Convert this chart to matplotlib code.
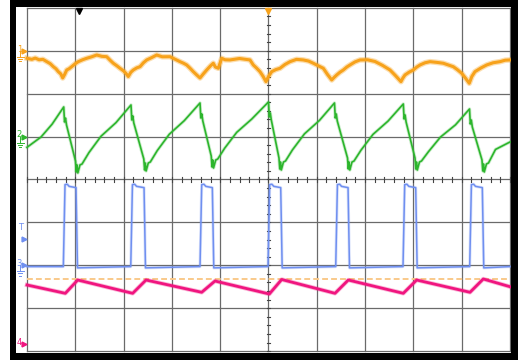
import numpy as np
import matplotlib
matplotlib.use("Agg")
from matplotlib import pyplot as plt

# screen units: x in divisions (0..10), y in divisions (-4..4, 0 = centre line)

# CH1 (orange)
ch1_t = [0.00, 0.10, 0.17, 0.25, 0.33, 0.41, 0.48, 0.545, 0.60, 0.648, 0.70, 0.739, 0.78, 0.822,
         0.87, 0.925, 1.00, 1.062, 1.15, 1.236, 1.34, 1.443, 1.55, 1.650, 1.72, 1.787, 1.86, 1.925,
         2.00, 2.05, 2.097, 2.15, 2.201, 2.27, 2.340, 2.41, 2.478, 2.58, 2.685, 2.80, 2.961, 3.07,
         3.168, 3.24, 3.306, 3.37, 3.443, 3.51, 3.582, 3.65, 3.720, 3.80, 3.857, 3.90, 3.961, 4.031,
         4.10, 4.203, 4.40, 4.617, 4.685, 4.75, 4.824, 4.89, 4.948, 5.00, 5.066, 5.15, 5.238, 5.34,
         5.445, 5.58, 5.721, 5.83, 5.928, 6.03, 6.135, 6.22, 6.309, 6.36, 6.412, 6.48, 6.549, 6.62,
         6.687, 6.79, 6.894, 7.05, 7.205, 7.36, 7.516, 7.63, 7.743, 7.78, 7.826, 7.91, 7.998, 8.07,
         8.137, 8.24, 8.344, 8.48, 8.619, 8.72, 8.826, 8.91, 9.000, 9.08, 9.157, 9.21, 9.275, 9.40,
         9.517, 9.65, 9.793, 9.90, 10.0]
ch1_v = [2.825, 2.80, 2.83, 2.79, 2.80, 2.746, 2.70, 2.629, 2.58, 2.513, 2.46, 2.366, 2.45, 2.552,
         2.58, 2.629, 2.70, 2.746, 2.79, 2.825, 2.86, 2.902, 2.87, 2.862, 2.78, 2.709, 2.65, 2.592,
         2.53, 2.47, 2.40, 2.50, 2.552, 2.60, 2.629, 2.72, 2.786, 2.84, 2.902, 2.86, 2.862, 2.80,
         2.746, 2.71, 2.669, 2.60, 2.513, 2.44, 2.366, 2.46, 2.552, 2.65, 2.709, 2.62, 2.592, 2.825,
         2.79, 2.786, 2.82, 2.786, 2.669, 2.60, 2.513, 2.40, 2.280, 2.40, 2.513, 2.56, 2.592, 2.68,
         2.746, 2.80, 2.786, 2.76, 2.709, 2.65, 2.592, 2.45, 2.319, 2.38, 2.436, 2.50, 2.552, 2.62,
         2.669, 2.74, 2.786, 2.79, 2.75, 2.66, 2.552, 2.42, 2.280, 2.36, 2.436, 2.50, 2.552, 2.62,
         2.669, 2.72, 2.746, 2.73, 2.709, 2.67, 2.629, 2.56, 2.476, 2.36, 2.242, 2.40, 2.513, 2.60,
         2.669, 2.72, 2.746, 2.78, 2.786]

# CH2 (green)
ch2_t = [0.00, 0.29, 0.52,
         0.760, 0.777, 0.797, 0.818, 1.004, 1.021, 1.035, 1.052, 1.097, 1.139, 1.283, 1.532, 1.842,
         2.153, 2.170, 2.190, 2.211, 2.418, 2.435, 2.449, 2.466, 2.511, 2.553, 2.697, 2.946, 3.256,
         3.582, 3.599, 3.619, 3.640, 3.814, 3.831, 3.845, 3.862, 3.907, 3.949, 4.093, 4.342, 4.652,
         5.000, 5.017, 5.037, 5.058, 5.217, 5.234, 5.248, 5.265, 5.310, 5.352, 5.496, 5.745, 6.055,
         6.366, 6.383, 6.403, 6.424, 6.636, 6.653, 6.667, 6.684, 6.729, 6.771, 6.915, 7.164, 7.474,
         7.791, 7.808, 7.828, 7.849, 8.033, 8.050, 8.064, 8.081, 8.126, 8.168, 8.312, 8.561, 8.871,
         9.162, 9.179, 9.199, 9.220, 9.420, 9.437, 9.451, 9.468, 9.513, 9.555, 9.70, 10.0]
ch2_v = [0.75, 0.99, 1.29,
         1.690, 1.34, 1.43, 1.27, 0.43, 0.175, 0.34, 0.152, 0.34, 0.36, 0.628, 1.008, 1.325,
         1.737, 1.387, 1.481, 1.317, 0.478, 0.221, 0.384, 0.198, 0.384, 0.408, 0.674, 1.054, 1.371,
         1.783, 1.433, 1.527, 1.363, 0.548, 0.291, 0.454, 0.268, 0.454, 0.478, 0.730, 1.099, 1.407,
         1.807, 1.457, 1.551, 1.387, 0.501, 0.244, 0.407, 0.221, 0.407, 0.431, 0.690, 1.064, 1.377,
         1.783, 1.433, 1.527, 1.363, 0.501, 0.244, 0.407, 0.221, 0.407, 0.431, 0.683, 1.052, 1.360,
         1.760, 1.410, 1.504, 1.340, 0.501, 0.244, 0.407, 0.221, 0.407, 0.431, 0.648, 0.989, 1.273,
         1.643, 1.293, 1.387, 1.223, 0.455, 0.198, 0.361, 0.175, 0.361, 0.385, 0.70, 0.874]

# CH3 (blue) pulse edges and levels
ch3_rise = [0.772, 2.168, 3.602, 5.010, 6.412, 7.805, 9.186]
ch3_fall = [1.035, 2.443, 3.857, 5.273, 6.667, 8.068, 9.447]
ch3_low = -2.03
ch3_high = -0.15

# CH4 (pink)
ch4_t = [0.0, 0.793, 1.050, 2.188, 2.464, 3.617, 3.892, 5.017, 5.273, 6.377, 6.652,
         7.791, 8.068, 9.172, 9.447, 10.0]
ch4_v = [-2.459, -2.653, -2.343, -2.653, -2.343, -2.629, -2.366, -2.669, -2.331, -2.653,
         -2.343, -2.653, -2.343, -2.629, -2.319, -2.499]

cursor_v = -2.326
ground = {"1": 3.0, "2": 1.0, "3": -2.0, "4": -3.83}
trig_level = -1.39
trig_t = 1.07

ORANGE = "#f7a21b"
GREEN = "#2cb52c"
BLUE = "#6f8ff0"
PINK = "#f0157f"
GRID = "#6a6a6a"

fig = plt.figure(figsize=(5.18, 3.60), dpi=100)
fig.patch.set_facecolor("white")
# black bezel
bez = fig.add_axes([10 / 518, 0, 508 / 518, 1])
bez.set_facecolor("black")
bez.set_xticks([])
bez.set_yticks([])
for s in bez.spines.values():
    s.set_visible(False)

ax = fig.add_axes([16 / 518, 7 / 360, 495 / 518, 346 / 360])
ax.set_facecolor("white")
ax.set_xlim(-0.228, 10.021)
ax.set_ylim(-4.044, 4.02)
ax.set_xticks([])
ax.set_yticks([])
for s in ax.spines.values():
    s.set_visible(False)

# graticule
for i in range(11):
    ax.plot([i, i], [-4, 4], color=GRID, lw=0.9, zorder=1)
for j in range(-4, 5):
    ax.plot([0, 10], [j, j], color=GRID, lw=0.9, zorder=1)
for k in range(51):
    ax.plot([k * 0.2, k * 0.2], [-0.055, 0.055], color="#444444", lw=0.8, zorder=1)
for k in range(41):
    ax.plot([4.97, 5.03], [-4 + k * 0.2] * 2, color="#444444", lw=0.8, zorder=1)

# cursor line
ax.plot([0, 10], [cursor_v, cursor_v], color="#f9c98a", lw=1.4, ls=(0, (3, 1.6)), zorder=2)

# traces
ax.plot(ch4_t, ch4_v, color=PINK, lw=3.2, alpha=0.3, zorder=3)
ax.plot(ch4_t, ch4_v, color=PINK, lw=2.0, zorder=3)

bt, bv = [0.0], [ch3_low]
for r, f in zip(ch3_rise, ch3_fall):
    bt += [r - 0.02, r + 0.015, r + 0.06, r + 0.10, f - 0.02, f + 0.01]
    bv += [ch3_low, ch3_high + 0.03, ch3_high + 0.04, ch3_high - 0.01, ch3_high - 0.04, ch3_low - 0.03]
bt.append(10.0)
bv.append(ch3_low)
ax.plot(bt, bv, color=BLUE, lw=2.2, alpha=0.25, zorder=4)
ax.plot(bt, bv, color=BLUE, lw=1.1, zorder=4)

ax.plot(ch2_t, ch2_v, color=GREEN, lw=2.4, alpha=0.25, zorder=5)
ax.plot(ch2_t, ch2_v, color=GREEN, lw=1.2, zorder=5)
ax.plot(ch1_t, ch1_v, color=ORANGE, lw=4.0, alpha=0.35, zorder=6)
ax.plot(ch1_t, ch1_v, color=ORANGE, lw=2.2, zorder=6)

# markers
ax.plot([trig_t], [3.93], marker="v", color="black", ms=5, zorder=7, clip_on=False)
ax.plot([5.0], [3.93], marker="v", color=ORANGE, ms=5, zorder=7, clip_on=False)
cols = {"1": ORANGE, "2": GREEN, "3": BLUE, "4": PINK}
for ch, gv in ground.items():
    c = cols[ch]
    ax.text(-0.215, gv + 0.04, ch, color=c, fontsize=6, ha="left", va="center")
    ax.plot([-0.06], [gv], marker=">", color=c, ms=3.5, zorder=7)
    if ch != "4":
        ax.plot([-0.14, -0.14], [gv, gv - 0.14], color=c, lw=0.7)
        for n, w in enumerate([0.07, 0.045, 0.02]):
            ax.plot([-0.14 - w, -0.14 + w], [gv - 0.14 - n * 0.05] * 2, color=c, lw=0.7)
ax.text(-0.14, trig_level + 0.28, "T", color=BLUE, fontsize=6, ha="center", va="center")
ax.plot([-0.06], [trig_level], marker=">", color=BLUE, ms=3.5, zorder=7)

fig.savefig("out.png", dpi=100)
